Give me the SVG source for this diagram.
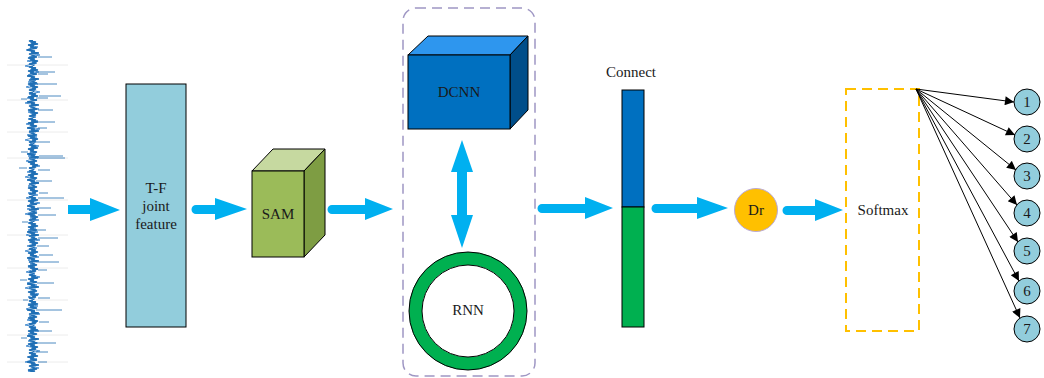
<svg xmlns="http://www.w3.org/2000/svg" width="1044" height="378" viewBox="0 0 1044 378">
<style>
.t{font-size:15px;fill:#1a1a1a;text-anchor:middle;dominant-baseline:central}
.blk{stroke:#000;stroke-width:1}
.fat{fill:#00B0F0}
.out{fill:#92CDDC;stroke:#000;stroke-width:1}
.fan{stroke:#000;stroke-width:1;fill:none;marker-end:url(#ah)}
.grid{stroke:#ececec;stroke-width:1}
</style>
<defs>
<marker id="ah" viewBox="0 0 10 10" refX="10" refY="5" markerWidth="11" markerHeight="9" markerUnits="userSpaceOnUse" orient="auto"><path d="M0,0 L10,5 L0,10 z" fill="#000"/></marker>
<pattern id="noiseA" patternUnits="userSpaceOnUse" x="26" y="40" width="14" height="26">
<polyline fill="none" stroke="#1F6FB5" stroke-width="1.4" points="7,0 3,1 10,2 5,3 12,4 2,5 8,6 4,7 11,8 6,9 1,10 9,11 5,12 13,13 3,14 8,15 6,16 11,17 2,18 9,19 4,20 12,21 6,22 10,23 3,24 8,25 7,26"/>
</pattern>
<pattern id="noiseB" patternUnits="userSpaceOnUse" x="24" y="40" width="18" height="37">
<polyline fill="none" stroke="#4A8FD0" stroke-width="1" points="9,0 6,2 12,3 4,5 14,7 8,8 2,10 11,12 7,13 16,15 5,17 10,19 3,21 13,23 8,24 1,26 12,28 6,30 15,32 9,33 4,35 9,37"/>
</pattern>
</defs>
<g id="signal">
<g class="grid"><line x1="7" y1="65" x2="68" y2="65"/><line x1="7" y1="100" x2="68" y2="100"/><line x1="7" y1="132" x2="68" y2="132"/><line x1="7" y1="158" x2="68" y2="158"/><line x1="7" y1="200" x2="68" y2="200"/><line x1="7" y1="235" x2="68" y2="235"/><line x1="7" y1="268" x2="68" y2="268"/><line x1="7" y1="300" x2="68" y2="300"/><line x1="7" y1="335" x2="68" y2="335"/><line x1="7" y1="362" x2="68" y2="362"/></g>
<rect x="24" y="40" width="18" height="332" fill="url(#noiseB)"/>
<rect x="27" y="40" width="12" height="332" fill="url(#noiseA)"/>
<path fill="none" stroke="#2E75B6" stroke-width="1" opacity="0.85" d="M38,57 h14 M36,72 h19 M38,74 h10 M37,84 h20 M39,96 h22 M36,98 h12 M38,110 h15 M37,122 h18 M38,128 h9 M36,142 h14 M39,156 h24 M37,158 h28 M38,170 h12 M36,181 h16 M39,193 h9 M38,198 h26 M37,208 h14 M38,215 h18 M36,230 h10 M38,238 h20 M37,246 h12 M39,255 h14 M36,262 h23 M38,270 h9 M37,283 h17 M38,298 h12 M36,310 h26 M39,322 h10 M37,331 h15 M38,343 h18 M36,352 h12 M38,362 h9 M27,99 h-6 M28,152 h-7 M27,168 h-8 M28,222 h-6 M27,280 h-7 M28,300 h-5 M27,338 h-6"/>
</g>
<g font-family="Liberation Serif, Times New Roman, serif">
<g id="tf">
<rect x="126" y="84" width="60" height="243" fill="#92CDDC" class="blk"/>
<text class="t" x="156" y="188">T-F</text><text class="t" x="156" y="206">joint</text><text class="t" x="156" y="224">feature</text>
</g>
<g id="sam">
<polygon points="252,171 273,149 325,149 304,171" fill="#C6D9A0" class="blk"/>
<polygon points="304,171 325,149 325,235 304,257" fill="#7E9D43" class="blk"/>
<rect x="252" y="171" width="52" height="86" fill="#9BBB59" class="blk"/>
<text class="t" x="278" y="214">SAM</text>
</g>
<g id="container">
<rect x="403" y="8" width="132" height="368" rx="13" fill="none" stroke="#9F97C4" stroke-width="1.5" stroke-dasharray="10,6"/>
</g>
<g id="dcnn">
<polygon points="408,55 428,36 528,36 510,55" fill="#2E96EE" class="blk"/>
<polygon points="510,55 528,36 528,110 510,129" fill="#004E8A" class="blk"/>
<rect x="408" y="55" width="102" height="74" fill="#0070C0" class="blk"/>
<text class="t" x="459" y="92">DCNN</text>
</g>
<g id="rnn">
<circle cx="468" cy="311" r="52.5" fill="none" stroke="#00B050" stroke-width="13"/>
<circle cx="468" cy="311" r="59" fill="none" stroke="#000" stroke-width="1"/>
<circle cx="468" cy="311" r="46" fill="#fff" stroke="#000" stroke-width="1"/>
<text class="t" x="468" y="310">RNN</text>
</g>
<g id="connect">
<text class="t" x="631" y="72">Connect</text>
<rect x="622" y="90" width="22" height="117" fill="#0070C0" class="blk"/>
<rect x="622" y="207" width="22" height="120" fill="#00B050" class="blk"/>
</g>
<g id="dr">
<circle cx="756" cy="210" r="21.5" fill="#FFC000" stroke="#B9A9D6" stroke-width="1"/>
<text class="t" x="756" y="210">Dr</text>
</g>
<g id="softmax">
<rect x="846" y="89" width="73" height="242" fill="none" stroke="#FFC000" stroke-width="2" stroke-dasharray="10,6"/>
<text class="t" x="883" y="210">Softmax</text>
</g>
<g id="outputs">
<circle class="out" cx="1027" cy="102" r="13"/><text class="t" x="1027" y="102">1</text>
<circle class="out" cx="1027" cy="139" r="13"/><text class="t" x="1027" y="139">2</text>
<circle class="out" cx="1027" cy="176" r="13"/><text class="t" x="1027" y="176">3</text>
<circle class="out" cx="1027" cy="213" r="13"/><text class="t" x="1027" y="213">4</text>
<circle class="out" cx="1027" cy="251" r="13"/><text class="t" x="1027" y="251">5</text>
<circle class="out" cx="1027" cy="291" r="13"/><text class="t" x="1027" y="291">6</text>
<circle class="out" cx="1027" cy="329" r="13"/><text class="t" x="1027" y="329">7</text>
</g>
</g>
<g id="connectors">
<path class="fat" d="M68,205 L90,205 L90,198 L120,210 L90,221 L90,214 L68,214 z"/>
<path class="fat" d="M196,205 L215,205 L215,198 L247,209 L215,220 L215,214 L196,214 A4.5,4.5 0 0 1 196,205 z"/>
<path class="fat" d="M332,205 L365,205 L365,198 L393,209 L365,220 L365,214 L332,214 A4.5,4.5 0 0 1 332,205 z"/>
<path class="fat" d="M457,172 L451,172 L462,140 L473,172 L467,172 L467,215 L473,215 L462,248 L451,215 L457,215 z"/>
<path class="fat" d="M542,204 L585,204 L585,197 L613,208 L585,219 L585,213 L542,213 A4.5,4.5 0 0 1 542,204 z"/>
<path class="fat" d="M656,204 L697,204 L697,197 L728,208 L697,219 L697,213 L656,213 A4.5,4.5 0 0 1 656,204 z"/>
<path class="fat" d="M787,206 L815,206 L815,199 L843,210 L815,221 L815,215 L787,215 A4.5,4.5 0 0 1 787,206 z"/>
<line class="fan" x1="916" y1="89" x2="1014" y2="102"/>
<line class="fan" x1="916" y1="89" x2="1015" y2="135"/>
<line class="fan" x1="916" y1="89" x2="1016" y2="170"/>
<line class="fan" x1="916" y1="89" x2="1017" y2="205"/>
<line class="fan" x1="916" y1="89" x2="1018" y2="242"/>
<line class="fan" x1="916" y1="89" x2="1019" y2="281"/>
<line class="fan" x1="916" y1="89" x2="1020" y2="318"/>
</g>
</svg>
